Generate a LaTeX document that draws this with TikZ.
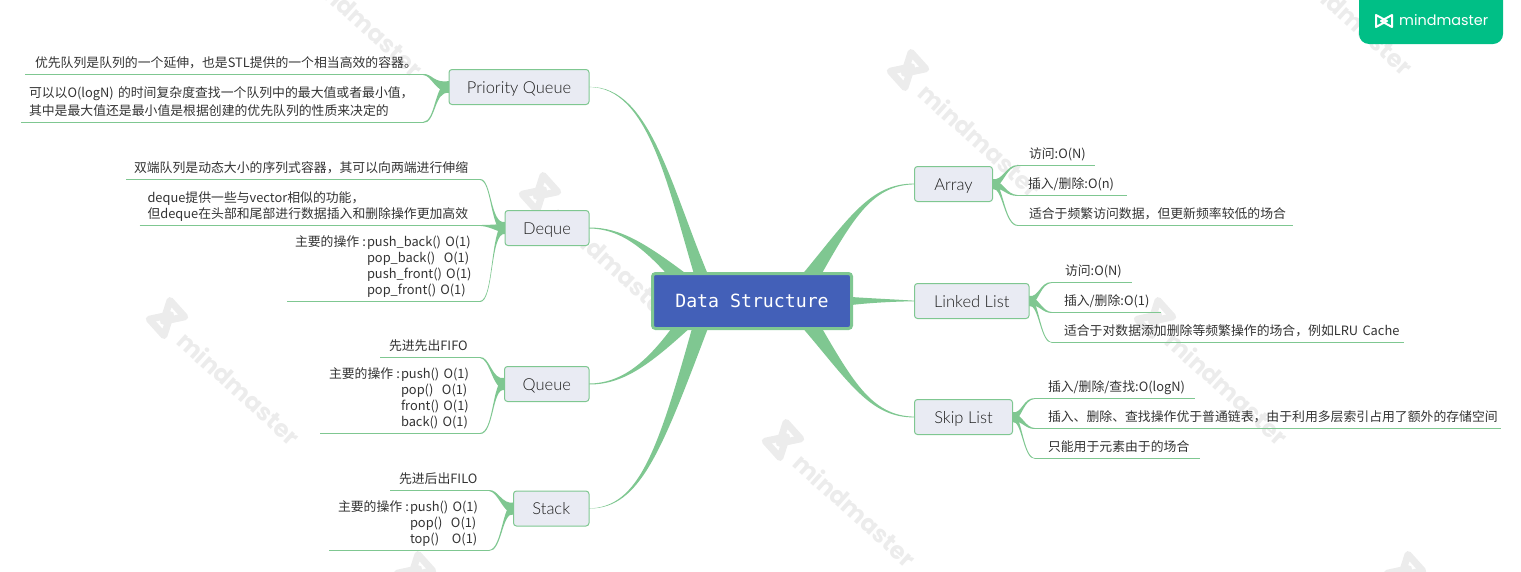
\documentclass[tikz,border=0pt]{standalone}
\usepackage{fontspec}
\setmainfont{Lato}
\newfontfamily\cjk{Noto Sans CJK SC}
\newfontfamily\topicfont{Lato Light}
\newfontfamily\rootfont{DejaVu Sans Mono}
\newfontfamily\markfont{Poppins}
\usetikzlibrary{backgrounds,calc}
\definecolor{branchgreen}{HTML}{7FC791}
\definecolor{topicfill}{HTML}{E9EBF3}
\definecolor{rootfill}{HTML}{4360B8}
\definecolor{inkgrey}{HTML}{333333}
\definecolor{topicink}{HTML}{1E1E1E}
\definecolor{badge}{HTML}{00BF86}
\definecolor{markgrey}{HTML}{ECECEC}
\tikzset{
  topic/.style={draw=branchgreen,line width=1pt,fill=topicfill,rounded corners=3pt,inner sep=0pt,outer sep=0pt,
    text=topicink,font=\topicfont\fontsize{16.5}{18}\selectfont,anchor=north west,text height=13pt,text depth=1pt},
  rootnode/.style={draw=branchgreen,line width=3pt,fill=rootfill,rounded corners=3pt,inner sep=0pt,outer sep=0pt,
    text=white,font=\rootfont\fontsize{18.2}{20}\selectfont,anchor=north west},
  leaf/.style={inner sep=0pt,outer sep=0pt,text=inkgrey,font=\cjk\fontsize{12.85}{16}\selectfont,anchor=south west},
  twig/.style={draw=branchgreen,line width=1pt},
  branch/.style={fill=branchgreen,draw=none},
}
% \leaf{name}{xL}{yLine}{width}{pad}{baselineskip}{text}
\newcommand\leaf[7]{%
  \node[leaf,text width=#4pt] (#1) at (#2,#3)
    {\leftskip=#5pt\rightskip=0pt plus 1fil\relax\parindent=0pt\baselineskip=#6pt\relax
     #7\rule[-7.5pt]{0pt}{7.5pt}\par};}
\newcommand\opslabel{\makebox[72pt][l]{主要的操作\hfill:\kern1pt}}
\newcommand\topicbox[6]{\node[topic,minimum width=#4pt,minimum height=#5pt] (#1) at (#2,#3) {#6};}
% \taper{base}{c1}{c2}{tip}{dx}{dy}: a leaf branch
\newcommand\taper[6]{%
  \fill[branch] ($#1+(#5,#6)$) .. controls ($#2+0.55*(#5,#6)$) and ($#3+0.2*(#5,#6)$) .. ($#4+0.08*(#5,#6)$)
     -- ($#4-0.08*(#5,#6)$) .. controls ($#3-0.2*(#5,#6)$) and ($#2-0.55*(#5,#6)$) .. ($#1-(#5,#6)$) -- cycle;}
% \mainbranch: same, slimmer along its length
\newcommand\mainbranch[6]{%
  \fill[branch] ($#1+(#5,#6)$) .. controls ($#2+0.22*(#5,#6)$) and ($#3+0.1*(#5,#6)$) .. ($#4+0.08*(#5,#6)$)
     -- ($#4-0.08*(#5,#6)$) .. controls ($#3-0.1*(#5,#6)$) and ($#2-0.22*(#5,#6)$) .. ($#1-(#5,#6)$) -- cycle;}
\newcommand\wm[2]{%
  \begin{scope}[shift={(#1,#2)},rotate=42]
    \draw[markgrey,line width=7pt,line join=round] (-14,-11) -- (-14,11) -- (5,0) -- cycle;
    \draw[markgrey,line width=7pt,line join=round] (14,-11) -- (14,11) -- (-5,0) -- cycle;
  \end{scope}
  \node[text=markgrey,font=\markfont\bfseries\fontsize{24}{26}\selectfont,rotate=-42,inner sep=0pt] at (#1+72,#2+70) {mindmaster};}
\begin{document}
\begin{tikzpicture}[x=1pt,y=-1pt]
\useasboundingbox (0,0) rectangle (1521,571);
% topics
\node[rootnode,minimum width=199pt,minimum height=55pt] (root) at (652.5,273.5) {Data Structure};
\topicbox{pq}{449}{69.5}{140}{35}{Priority Queue}
\topicbox{deque}{505}{210.5}{84}{35}{Deque}
\topicbox{queue}{504.5}{366.5}{84.5}{35}{Queue}
\topicbox{stack}{513.5}{491}{75.5}{35}{Stack}
\topicbox{array}{914.5}{166.5}{78}{35}{Array}
\topicbox{linked}{914.5}{283.5}{114.5}{35}{Linked List}
\topicbox{skip}{914.5}{399.5}{98}{35}{Skip List}
% leaves, left side
\leaf{pqa}{25}{74.5}{398}{10}{16}{优先队列是队列的一个延伸，也是STL提供的一个相当高效的容器。}
\leaf{pqb}{21}{122.5}{402}{8}{18}{可以以O(logN) 的时间复杂度查找一个队列中的最大值或者最小值，\\其中是最大值还是最小值是根据创建的优先队列的性质来决定的}
\leaf{da}{126}{179.5}{354}{8}{16}{双端队列是动态大小的序列式容器，其可以向两端进行伸缩}
\leaf{db}{139.5}{225.5}{340.5}{8}{16}{deque提供一些与vector相似的功能，\\但deque在头部和尾部进行数据插入和删除操作更加高效}
\leaf{dc}{287}{301.5}{193}{8}{16}{\opslabel push\_back() O(1)\\\hspace*{72pt}pop\_back()\ \ O(1)\\\hspace*{72pt}push\_front() O(1)\\\hspace*{72pt}pop\_front() O(1)}
\leaf{qa}{380}{357.5}{100}{9}{16}{先进先出FIFO}
\leaf{qb}{320}{433.5}{160}{9}{16}{\opslabel push() O(1)\\\hspace*{72pt}pop()\ \ O(1)\\\hspace*{72pt}front() O(1)\\\hspace*{72pt}back() O(1)}
\leaf{sa}{390}{490.5}{99}{9}{16}{先进后出FILO}
\leaf{sb}{329}{550.5}{160}{9}{16}{\opslabel push() O(1)\\\hspace*{72pt}pop()\ \ O(1)\\\hspace*{72pt}top()\ \ \ O(1)}
% leaves, right side
\leaf{aa}{1018}{165.5}{77}{11}{16}{访问:O(N)}
\leaf{ab}{1018}{195.5}{109}{10}{16}{插入/删除:O(n)}
\leaf{ac}{1018}{225.5}{275}{11}{16}{适合于频繁访问数据，但更新频率较低的场合}
\leaf{la}{1052}{282.5}{80}{13}{16}{访问:O(N)}
\leaf{lb}{1052}{312.5}{109}{12}{16}{插入/删除:O(1)}
\leaf{lc}{1052}{342.5}{352}{12}{16}{适合于对数据添加删除等频繁操作的场合，例如LRU Cache}
\leaf{ka}{1035}{398.5}{160}{13}{16}{插入/删除/查找:O(logN)}
\leaf{kb}{1035}{428.5}{466}{13}{16}{插入、删除、查找操作优于普通链表，由于利用多层索引占用了额外的存储空间}
\leaf{kc}{1035}{458.5}{165}{13}{16}{只能用于元素由于的场合}
% badge
\fill[badge,rounded corners=10pt] (1359,-20) rectangle (1503,44);
\begin{scope}[shift={(1384,21)}]
  \draw[white,line width=2pt,line join=round] (-8,-6) -- (-8,6) -- (3,0) -- cycle;
  \draw[white,line width=2pt,line join=round] (8,-6) -- (8,6) -- (-3,0) -- cycle;
\end{scope}
\node[inner sep=0pt,text=white,font=\markfont\fontsize{14.4}{17}\selectfont,anchor=west] (brand) at (1399,20.5) {mindmaster};
\begin{scope}[on background layer]
  % watermark
  \wm{167}{318}\wm{540}{193}\wm{908}{70}\wm{783}{440}\wm{1155}{318}\wm{290}{-50}\wm{1280}{-52}\wm{415}{572}\wm{1405}{572}
  % underlines
  \foreach \n in {pqa,pqb,da,db,dc,qa,qb,sa,sb,aa,ab,ac,la,lb,lc,ka,kb,kc}
    \draw[twig] (\n.south west) -- (\n.south east);
  % main branches
  \mainbranch{($(root.north west)+(51,8)$)}{(670,190)}{(650,86)}{(pq.east)}{7}{-1}
  \mainbranch{($(root.north west)+(31,8)$)}{(645,245)}{(620,228)}{(deque.east)}{5}{-6}
  \mainbranch{($(root.south west)+(34,-8)$)}{(652,360)}{(625,384)}{(queue.east)}{5}{6}
  \mainbranch{($(root.south west)+(50,-8)$)}{(660,450)}{(640,508)}{(stack.east)}{8}{1}
  \mainbranch{($(root.north east)+(-44,8)$)}{(850,220)}{(870,184)}{(array.west)}{7}{5}
  \taper{(root.east)}{(870,300.5)}{(900,300.5)}{(linked.west)}{0}{4}
  \mainbranch{($(root.south east)+(-44,-8)$)}{(850,380)}{(870,417)}{(skip.west)}{7}{-5}
  % leaf branches, left
  \taper{(pq.west)}{(434,87)}{(432,74.5)}{(pqa.south east)}{0}{6}
  \taper{(pq.west)}{(434,87)}{(436,122.5)}{(pqb.south east)}{0}{6}
  \taper{(deque.west)}{(490,228)}{(492,179.5)}{(da.south east)}{0}{6}
  \taper{(deque.west)}{(495,228)}{(490,225.5)}{(db.south east)}{0}{5}
  \taper{(deque.west)}{(490,228)}{(494,301.5)}{(dc.south east)}{0}{6}
  \taper{(queue.west)}{(492,384)}{(490,357.5)}{(qa.south east)}{0}{6}
  \taper{(queue.west)}{(492,384)}{(494,433.5)}{(qb.south east)}{0}{6}
  \taper{(stack.west)}{(502,508)}{(498,490.5)}{(sa.south east)}{0}{6}
  \taper{(stack.west)}{(502,508)}{(502,550.5)}{(sb.south east)}{0}{6}
  % leaf branches, right
  \taper{(array.east)}{(1003,184)}{(1006,165.5)}{(aa.south west)}{0}{5}
  \taper{(array.east)}{(1003,184)}{(1006,195.5)}{(ab.south west)}{0}{5}
  \taper{(array.east)}{(1003,184)}{(1004,225.5)}{(ac.south west)}{0}{5}
  \taper{(linked.east)}{(1039,300.5)}{(1040,282.5)}{(la.south west)}{0}{5}
  \taper{(linked.east)}{(1039,300.5)}{(1042,312.5)}{(lb.south west)}{0}{5}
  \taper{(linked.east)}{(1039,300.5)}{(1040,342.5)}{(lc.south west)}{0}{5}
  \taper{(skip.east)}{(1022,417)}{(1023,398.5)}{(ka.south west)}{0}{5}
  \taper{(skip.east)}{(1022,417)}{(1025,428.5)}{(kb.south west)}{0}{5}
  \taper{(skip.east)}{(1022,417)}{(1023,458.5)}{(kc.south west)}{0}{5}
\end{scope}
\end{tikzpicture}
\end{document}
